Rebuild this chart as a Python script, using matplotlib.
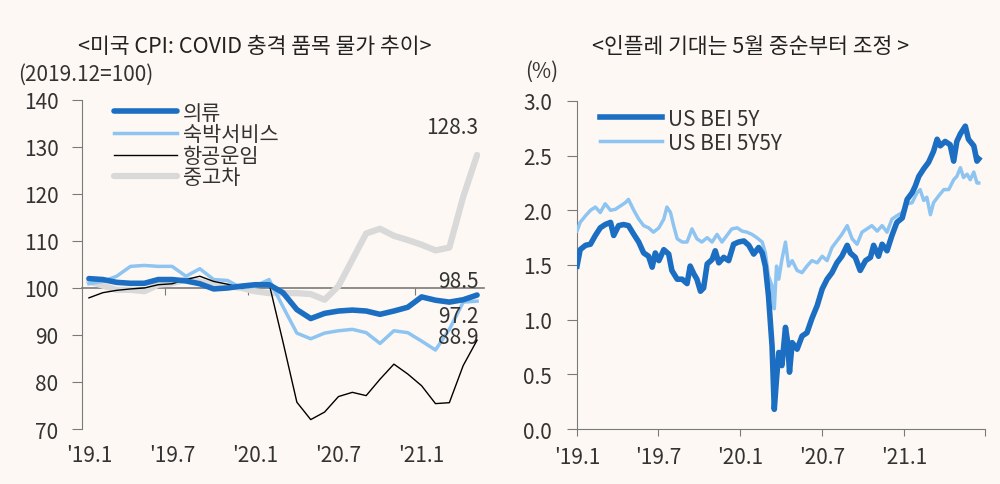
import numpy as np
import pandas as pd
import matplotlib
matplotlib.use("Agg")
import matplotlib.pyplot as plt

plt.rcParams['font.family'] = ['Noto Sans CJK KR', 'DejaVu Sans']

# ---- left chart: US CPI items, monthly 2019.1 ~ 2021.5 (2019.12=100)
months = pd.period_range('2019-01', '2021-05', freq='M')
clothing = [102.0, 101.8, 101.2, 101.0, 101.0, 101.8, 101.8, 101.5, 100.9, 99.8,
            100.0, 100.4, 100.7, 100.7, 99.0, 95.4, 93.5, 94.6, 95.1, 95.3,
            95.1, 94.4, 95.1, 95.9, 98.1, 97.4, 97.0, 97.5, 98.5]
lodging = [100.9, 101.4, 102.5, 104.6, 104.8, 104.6, 104.6, 102.5, 104.1, 101.8,
           101.6, 100.0, 100.4, 101.8, 96.0, 90.4, 89.2, 90.4, 90.9, 91.2,
           90.5, 88.2, 90.9, 90.5, 88.7, 86.8, 91.2, 97.0, 97.2]
airfare = [97.9, 99.0, 99.5, 99.8, 100.0, 100.7, 100.9, 101.8, 102.5, 101.4,
           100.8, 100.0, 100.5, 100.9, 88.5, 75.7, 72.0, 73.6, 76.9, 77.8,
           77.1, 80.6, 83.8, 81.7, 79.2, 75.4, 75.6, 83.5, 88.9]
used_cars = [101.4, 100.5, 99.6, 99.6, 99.3, 100.7, 101.0, 101.8, 101.4, 100.7,
             100.4, 100.0, 99.3, 98.9, 98.9, 98.9, 98.7, 97.5, 100.4, 106.0,
             111.6, 112.6, 111.1, 110.2, 109.2, 108.0, 108.6, 119.4, 128.3]
cpi_names = ['의류', '숙박서비스', '항공운임', '중고차']
x_labels = ["'19.1", "'19.7", "'20.1", "'20.7", "'21.1"]

# ---- right chart: US breakeven inflation (%)
dates_5y = ['2019-01-01', '2019-01-08', '2019-01-20', '2019-01-31', '2019-02-11', '2019-02-22',
            '2019-03-05', '2019-03-17', '2019-03-24', '2019-04-04', '2019-04-15', '2019-04-26',
            '2019-05-08', '2019-05-19', '2019-05-30', '2019-06-10', '2019-06-18', '2019-06-25',
            '2019-07-03', '2019-07-14', '2019-07-25', '2019-08-01', '2019-08-13', '2019-08-24',
            '2019-09-04', '2019-09-11', '2019-09-19', '2019-09-26', '2019-10-04', '2019-10-11',
            '2019-10-19', '2019-10-30', '2019-11-06', '2019-11-14', '2019-11-25', '2019-12-06',
            '2019-12-17', '2019-12-28', '2020-01-09', '2020-01-20', '2020-01-31', '2020-02-11',
            '2020-02-19', '2020-02-26', '2020-03-04', '2020-03-12', '2020-03-17', '2020-03-22',
            '2020-03-27', '2020-04-03', '2020-04-11', '2020-04-16', '2020-04-20', '2020-04-26',
            '2020-05-07', '2020-05-18', '2020-05-29', '2020-06-09', '2020-06-21', '2020-07-02',
            '2020-07-13', '2020-07-24', '2020-08-04', '2020-08-15', '2020-08-27', '2020-09-03',
            '2020-09-14', '2020-09-25', '2020-10-07', '2020-10-18', '2020-10-25', '2020-11-05',
            '2020-11-13', '2020-11-24', '2020-12-05', '2020-12-16', '2020-12-28', '2021-01-08',
            '2021-01-19', '2021-01-26', '2021-02-03', '2021-02-14', '2021-02-25', '2021-03-08',
            '2021-03-16', '2021-03-23', '2021-04-03', '2021-04-14', '2021-04-22', '2021-04-29',
            '2021-05-07', '2021-05-18', '2021-05-25', '2021-06-06', '2021-06-13', '2021-06-17']
bei_5y = [1.49, 1.64, 1.68, 1.69, 1.77, 1.84, 1.87, 1.89, 1.77, 1.86, 1.87, 1.86,
          1.78, 1.71, 1.61, 1.58, 1.48, 1.61, 1.54, 1.64, 1.60, 1.45, 1.37, 1.37,
          1.33, 1.49, 1.42, 1.37, 1.26, 1.29, 1.51, 1.55, 1.63, 1.52, 1.57, 1.54,
          1.69, 1.71, 1.72, 1.68, 1.60, 1.66, 1.61, 1.49, 1.22, 0.76, 0.18, 0.46,
          0.70, 0.58, 0.93, 0.79, 0.52, 0.79, 0.73, 0.85, 0.88, 1.01, 1.13, 1.28,
          1.37, 1.43, 1.52, 1.58, 1.68, 1.61, 1.57, 1.45, 1.54, 1.57, 1.68, 1.58,
          1.69, 1.63, 1.77, 1.89, 1.93, 2.10, 2.16, 2.22, 2.31, 2.38, 2.44, 2.54,
          2.65, 2.59, 2.63, 2.60, 2.45, 2.63, 2.70, 2.77, 2.65, 2.59, 2.45, 2.47]

dates_5y5y = ['2019-01-01', '2019-01-08', '2019-01-20', '2019-01-31', '2019-02-11', '2019-02-22',
              '2019-03-05', '2019-03-17', '2019-03-28', '2019-04-08', '2019-04-19', '2019-04-26',
              '2019-05-08', '2019-05-19', '2019-05-30', '2019-06-10', '2019-06-21', '2019-07-03',
              '2019-07-14', '2019-07-21', '2019-07-29', '2019-08-05', '2019-08-13', '2019-08-24',
              '2019-09-04', '2019-09-15', '2019-09-26', '2019-10-07', '2019-10-19', '2019-10-30',
              '2019-11-10', '2019-11-21', '2019-12-02', '2019-12-13', '2019-12-25', '2020-01-05',
              '2020-01-16', '2020-01-27', '2020-02-07', '2020-02-19', '2020-02-26', '2020-03-04',
              '2020-03-12', '2020-03-17', '2020-03-22', '2020-03-27', '2020-04-03', '2020-04-11',
              '2020-04-18', '2020-04-26', '2020-05-07', '2020-05-18', '2020-05-29', '2020-06-09',
              '2020-06-21', '2020-07-02', '2020-07-13', '2020-07-24', '2020-08-04', '2020-08-15',
              '2020-08-27', '2020-09-07', '2020-09-18', '2020-09-29', '2020-10-10', '2020-10-21',
              '2020-11-02', '2020-11-13', '2020-11-24', '2020-12-05', '2020-12-16', '2020-12-28',
              '2021-01-08', '2021-01-19', '2021-01-30', '2021-02-06', '2021-02-14', '2021-02-21',
              '2021-03-01', '2021-03-08', '2021-03-19', '2021-03-31', '2021-04-11', '2021-04-22',
              '2021-04-29', '2021-05-07', '2021-05-14', '2021-05-22', '2021-05-29', '2021-06-06',
              '2021-06-13', '2021-06-17']
bei_5y5y = [1.81, 1.89, 1.95, 2.00, 2.03, 1.98, 2.06, 2.00, 2.01, 2.04, 2.07, 2.10,
            2.00, 1.92, 1.86, 1.84, 1.80, 1.84, 1.92, 2.03, 1.98, 1.86, 1.74, 1.71,
            1.71, 1.83, 1.74, 1.71, 1.75, 1.71, 1.78, 1.71, 1.77, 1.83, 1.84, 1.81,
            1.80, 1.78, 1.75, 1.71, 1.61, 1.40, 1.31, 1.10, 1.49, 1.37, 1.55, 1.71,
            1.49, 1.54, 1.45, 1.43, 1.49, 1.54, 1.52, 1.58, 1.54, 1.66, 1.72, 1.78,
            1.86, 1.74, 1.69, 1.80, 1.83, 1.86, 1.81, 1.86, 1.80, 1.92, 1.95, 1.98,
            2.06, 2.07, 2.16, 2.19, 2.09, 2.12, 1.96, 2.07, 2.13, 2.19, 2.19, 2.28,
            2.31, 2.39, 2.30, 2.33, 2.28, 2.35, 2.25, 2.25]
bei_names = ['US BEI 5Y', 'US BEI 5Y5Y']
bei_ticks = ['2019-01-01', '2019-07-01', '2020-01-01', '2020-07-01', '2021-01-01', '2021-07-01']

bg = '#FDF8F3'
dark_blue = '#1B6EC2'
light_blue = '#8EC4F2'
gray = '#D9D9D9'
axis_gray = '#7A7A7A'
text_col = '#333333'
fs = 15

fig = plt.figure(figsize=(10, 4.85), dpi=100, facecolor=bg)

# ================= left chart
ax1 = fig.add_axes([0.082, 0.1134, 0.402, 0.6784])
ax1.set_facecolor(bg)
idx = np.arange(len(months))
ax1.plot(idx, used_cars, color=gray, lw=4.5, label=cpi_names[3], zorder=2, solid_capstyle='round')
ax1.plot(idx, lodging, color=light_blue, lw=2.5, label=cpi_names[1], zorder=3)
ax1.plot(idx, airfare, color='black', lw=1.0, label=cpi_names[2], zorder=4)
ax1.plot(idx, clothing, color=dark_blue, lw=4.0, label=cpi_names[0], zorder=5, solid_capstyle='round')
ax1.set_xlim(-0.5, len(months) - 0.5)
ax1.set_ylim(70, 140)
ax1.set_yticks(np.arange(70, 141, 10))
ax1.set_xticks(idx[::6])
ax1.set_xticklabels(x_labels)
for s in ['top', 'right', 'bottom']:
    ax1.spines[s].set_visible(False)
ax1.spines['left'].set_color(axis_gray)
ax1.tick_params(axis='y', length=7, color=axis_gray, labelsize=fs, labelcolor=text_col, pad=10)
ax1.tick_params(axis='x', length=0, labelsize=fs, labelcolor=text_col, pad=11)

# baseline at 100 acts as the category axis
base = ax1.secondary_xaxis((100 - 70) / (140 - 70))
base.set_xticks(idx[5::6] + 0.5)
base.set_xticklabels([])
base.tick_params(axis='x', length=5, color=axis_gray, direction='out')
base.spines['bottom'].set_color(axis_gray)
base.spines['bottom'].set_linewidth(1.2)

handles, labels = ax1.get_legend_handles_labels()
order = [3, 1, 2, 0]
leg1 = ax1.legend([handles[i] for i in order], [labels[i] for i in order],
                  loc='upper left', bbox_to_anchor=(0.06, 1.02), frameon=False,
                  fontsize=fs, handlelength=3.0, handletextpad=0.3, labelspacing=-0.02,
                  borderaxespad=0.0)
for t in leg1.get_texts():
    t.set_color(text_col)

last = len(months) - 1
ax1.annotate(f'{used_cars[-1]:.1f}', (last, used_cars[-1]), xytext=(1, 12),
             textcoords='offset points', ha='right', va='bottom', fontsize=fs, color=text_col)
ax1.annotate(f'{clothing[-1]:.1f}', (last, clothing[-1]), xytext=(1, 2),
             textcoords='offset points', ha='right', va='bottom', fontsize=fs, color=text_col)
ax1.annotate(f'{lodging[-1]:.1f}', (last, lodging[-1]), xytext=(1, -3),
             textcoords='offset points', ha='right', va='top', fontsize=fs, color=text_col)
ax1.annotate(f'{airfare[-1]:.1f}', (last, airfare[-1]), xytext=(1, 2),
             textcoords='offset points', ha='right', va='center', fontsize=fs, color=text_col)

fig.text(0.255, 1 - 47 / 485, '<미국 CPI: COVID 충격 품목 물가 추이>', ha='center', va='center',
         fontsize=15.5, color='#222222')
fig.text(0.018, 1 - 75 / 485, '(2019.12=100)', ha='left', va='center', fontsize=fs, color=text_col)

# ================= right chart
ax2 = fig.add_axes([0.577, 0.1134, 0.408, 0.6763])
ax2.set_facecolor(bg)
ax2.plot(pd.to_datetime(dates_5y5y), bei_5y5y, color=light_blue, lw=2.5, label=bei_names[1], zorder=3)
ax2.plot(pd.to_datetime(dates_5y), bei_5y, color=dark_blue, lw=4.0, label=bei_names[0], zorder=4)
ticks = pd.to_datetime(bei_ticks)
ax2.set_xlim(ticks[0], ticks[-1])
ax2.set_ylim(0, 3.0)
ax2.set_yticks(np.arange(0, 3.01, 0.5))
ax2.yaxis.set_major_formatter(matplotlib.ticker.FormatStrFormatter('%.1f'))
ax2.set_xticks(ticks)
ax2.set_xticklabels(x_labels + [''])
for s in ['top', 'right']:
    ax2.spines[s].set_visible(False)
for s in ['left', 'bottom']:
    ax2.spines[s].set_color(axis_gray)
ax2.tick_params(axis='y', length=7, color=axis_gray, labelsize=fs, labelcolor=text_col, pad=11)
ax2.tick_params(axis='x', length=5, color=axis_gray, labelsize=fs, labelcolor=text_col, pad=7)

h2, l2 = ax2.get_legend_handles_labels()
leg2 = ax2.legend([h2[1], h2[0]], [l2[1], l2[0]], loc='upper left',
                  bbox_to_anchor=(0.035, 1.005), frameon=False, fontsize=fs,
                  handlelength=3.0, handletextpad=0.3, labelspacing=0.1, borderaxespad=0.0)
for t in leg2.get_texts():
    t.set_color(text_col)

fig.text(0.751, 1 - 47 / 485, '<인플레 기대는 5월 중순부터 조정 >', ha='center', va='center',
         fontsize=15.5, color='#222222')
fig.text(0.542, 1 - 72 / 485, '(%)', ha='center', va='center', fontsize=fs, color=text_col)

fig.savefig('out.png', dpi=100, facecolor=bg)
